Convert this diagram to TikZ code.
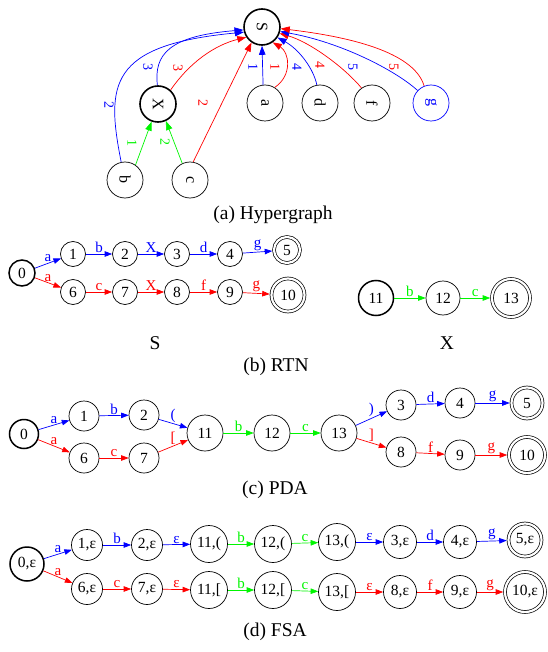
\documentclass[tikz,border=0pt]{standalone}
\usepackage{fontspec}
\usepackage{graphicx}
\setmainfont{Liberation Serif}
\usetikzlibrary{arrows.meta}
\definecolor{eblue}{RGB}{0,0,255}
\definecolor{ered}{RGB}{255,0,0}
\definecolor{egreen}{RGB}{0,245,0}
\begin{document}
\begin{tikzpicture}[x=1pt,y=-1pt,
  st/.style={circle,draw,line width=0.7pt,inner sep=0pt,minimum size=#1,font=\fontsize{15.5}{15.5}\selectfont},
  st/.default=30pt,
  stb/.style={st=#1,line width=1.5pt},
  stb/.default=30pt,
  acc/.style={st=#1,double,double distance=2.2pt,line width=0.7pt,outer sep=1.8pt},
  acc/.default=30pt,
  hn/.style={circle,draw,line width=0.7pt,inner sep=0pt,minimum size=36pt,font=\fontsize{16}{16}\selectfont},
  hnb/.style={hn,line width=1.6pt},
  hl/.style={font=\fontsize{14}{14}\selectfont,rotate=-90,inner sep=0pt},
  el/.style={font=\fontsize{15}{15}\selectfont,inner sep=1pt},
  ar/.style={line width=0.7pt,-{Triangle[length=7.5pt,width=5.5pt]}},
  har/.style={line width=0.7pt,-{Triangle[length=9pt,width=6.5pt]}},
  captxt/.style={font=\fontsize{19.5}{19.5}\selectfont},
]
\useasboundingbox (0,0) rectangle (547,652);

% ---------------- (a) Hypergraph ----------------
\node[hnb] (S) at (262,27) {\rotatebox{-90}{S}};
\node[hnb] (X) at (158,104) {\rotatebox{-90}{X}};
\node[hn] (b) at (125,180) {\rotatebox{-90}{b}};
\node[hn] (c) at (190,180) {\rotatebox{-90}{c}};
\node[hn] (a) at (265,103) {\rotatebox{-90}{a}};
\node[hn] (d) at (320,103) {\rotatebox{-90}{d}};
\node[hn] (f) at (372,103) {\rotatebox{-90}{f}};
\node[hn,draw=eblue,text=eblue] (g) at (431,103) {\rotatebox{-90}{g}};

\draw[har,eblue] (b.102) .. controls (106,85) and (108,45) .. (S.196);
\draw[har,eblue] (X.92) .. controls (154,55) and (168,36) .. (S.189);
\draw[har,ered] (X.48) .. controls (190,62) and (215,45) .. (S.213);
\draw[har,ered] (c.80) -- (S.236);
\draw[har,egreen] (b.55) -- (X.250);
\draw[har,egreen] (c.115) -- (X.295);
\draw[har,eblue] (a.96) -- (S.270);
\draw[har,ered] (a.58) .. controls (293,75) and (289,52) .. (S.305);
\draw[har,eblue] (d.100) .. controls (314,70) and (300,50) .. (S.326);
\draw[har,ered] (f.125) .. controls (345,68) and (310,42) .. (S.340);
\draw[har,eblue] (g.137) .. controls (395,70) and (340,42) .. (S.346);
\draw[har,ered] (g.112) .. controls (415,55) and (360,38) .. (S.355);

\node[hl,text=eblue] (lb2) at (109,105) {2};
\node[hl,text=egreen] (lb1) at (132,143) {1};
\node[hl,text=egreen] (lc2) at (165,142) {2};
\node[hl,text=eblue] (lx3b) at (148,67) {3};
\node[hl,text=ered] (lx3r) at (178,68) {3};
\node[hl,text=ered] (lc2r) at (203,103) {2};
\node[hl,text=eblue] (la1b) at (253,67) {1};
\node[hl,text=ered] (la1r) at (275,67) {1};
\node[hl,text=eblue] (ld4) at (297,67) {4};
\node[hl,text=ered] (lf4) at (320,65) {4};
\node[hl,text=eblue] (lg5b) at (353,67) {5};
\node[hl,text=ered] (lg5r) at (394,67) {5};

\node[captxt] (capa) at (273,215) {(a) Hypergraph};

% ---------------- (b) RTN ----------------
\node[stb=26pt] (r0) at (22,273) {0};
\node[st=25pt] (r1) at (73,254) {1};
\node[st=25pt] (r2) at (125,254) {2};
\node[st=25pt] (r3) at (177,254) {3};
\node[st=25pt] (r4) at (230,254) {4};
\node[acc=26pt] (r5) at (287,250) {5};
\node[st=25pt] (r6) at (73,292) {6};
\node[st=25pt] (r7) at (125,292) {7};
\node[st=25pt] (r8) at (177,292) {8};
\node[st=25pt] (r9) at (230,292) {9};
\node[acc=33pt] (r10) at (288,295) {10};

\draw[ar,eblue] (r0) -- node[el,above] {a} (r1);
\draw[ar,eblue] (r1) -- node[el,above] {b} (r2);
\draw[ar,eblue] (r2) -- node[el,above] {X} (r3);
\draw[ar,eblue] (r3) -- node[el,above] {d} (r4);
\draw[ar,eblue] (r4) -- node[el,above] {g} (r5);
\draw[ar,ered] (r0) -- node[el,above] {a} (r6);
\draw[ar,ered] (r6) -- node[el,above] {c} (r7);
\draw[ar,ered] (r7) -- node[el,above] {X} (r8);
\draw[ar,ered] (r8) -- node[el,above] {f} (r9);
\draw[ar,ered] (r9) -- node[el,above] {g} (r10);

\node[stb=35pt] (r11) at (376,298) {11};
\node[st=34pt] (r12) at (443,298) {12};
\node[acc=38pt] (r13) at (511,298) {13};
\draw[ar,egreen] (r11) -- node[el,above] {b} (r12);
\draw[ar,egreen] (r12) -- node[el,above] {c} (r13);

\node[captxt] (lS) at (155,343) {S};
\node[captxt] (lX) at (447,343) {X};
\node[captxt] (capb) at (276,367) {(b) RTN};

% ---------------- (c) PDA ----------------
\node[stb=29pt] (p0) at (24,434) {0};
\node[st=30pt] (p1) at (84,416) {1};
\node[st=30pt] (p2) at (144,415) {2};
\node[st=30pt] (p6) at (84,458) {6};
\node[st=30pt] (p7) at (144,458) {7};
\node[st=36pt] (p11) at (205,433) {11};
\node[st=36pt] (p12) at (272,433) {12};
\node[st=36pt] (p13) at (339,433) {13};
\node[st=30pt] (p3) at (401,405) {3};
\node[st=30pt] (p4) at (460,403) {4};
\node[acc=31pt] (p5) at (527,403) {5};
\node[st=30pt] (p8) at (401,452) {8};
\node[st=30pt] (p9) at (460,455) {9};
\node[acc=36pt] (p10) at (527,455) {10};

\draw[ar,eblue] (p0) -- node[el,above] {a} (p1);
\draw[ar,eblue] (p1) -- node[el,above] {b} (p2);
\draw[ar,eblue] (p2) -- node[el,above] {(} (p11);
\draw[ar,ered] (p0) -- node[el,above] {a} (p6);
\draw[ar,ered] (p6) -- node[el,above] {c} (p7);
\draw[ar,ered] (p7) -- node[el,above] {[} (p11);
\draw[ar,egreen] (p11) -- node[el,above] {b} (p12);
\draw[ar,egreen] (p12) -- node[el,above] {c} (p13);
\draw[ar,eblue] (p13) -- node[el,above] {)} (p3);
\draw[ar,eblue] (p3) -- node[el,above] {d} (p4);
\draw[ar,eblue] (p4) -- node[el,above] {g} (p5);
\draw[ar,ered] (p13) -- node[el,above] {]} (p8);
\draw[ar,ered] (p8) -- node[el,above] {f} (p9);
\draw[ar,ered] (p9) -- node[el,above] {g} (p10);

\node[captxt] (capc) at (275,490) {(c) PDA};

% ---------------- (d) FSA ----------------
\node[stb=34pt] (f0) at (27,564) {0,ε};
\node[st=31pt] (f1) at (87,545) {1,ε};
\node[st=31pt] (f2) at (147,545) {2,ε};
\node[st=37pt] (f11a) at (209,544) {11,(};
\node[st=37pt] (f12a) at (273,544) {12,(};
\node[st=37pt] (f13a) at (337,542) {13,(};
\node[st=33pt] (f3) at (400,542) {3,ε};
\node[st=33pt] (f4) at (460,542) {4,ε};
\node[acc=33pt] (f5) at (525,540) {5,ε};
\node[st=31pt] (f6) at (87,589) {6,ε};
\node[st=31pt] (f7) at (147,589) {7,ε};
\node[st=37pt] (f11b) at (209,590) {11,[};
\node[st=37pt] (f12b) at (273,590) {12,[};
\node[st=37pt] (f13b) at (337,592) {13,[};
\node[st=33pt] (f8) at (400,592) {8,ε};
\node[st=33pt] (f9) at (460,592) {9,ε};
\node[acc=40pt] (f10) at (525,592) {10,ε};

\draw[ar,eblue] (f0) -- node[el,above] {a} (f1);
\draw[ar,eblue] (f1) -- node[el,above] {b} (f2);
\draw[ar,eblue] (f2) -- node[el,above] {ε} (f11a);
\draw[ar,egreen] (f11a) -- node[el,above] {b} (f12a);
\draw[ar,egreen] (f12a) -- node[el,above] {c} (f13a);
\draw[ar,eblue] (f13a) -- node[el,above] {ε} (f3);
\draw[ar,eblue] (f3) -- node[el,above] {d} (f4);
\draw[ar,eblue] (f4) -- node[el,above] {g} (f5);
\draw[ar,ered] (f0) -- node[el,above] {a} (f6);
\draw[ar,ered] (f6) -- node[el,above] {c} (f7);
\draw[ar,ered] (f7) -- node[el,above] {ε} (f11b);
\draw[ar,egreen] (f11b) -- node[el,above] {b} (f12b);
\draw[ar,egreen] (f12b) -- node[el,above] {c} (f13b);
\draw[ar,ered] (f13b) -- node[el,above] {ε} (f8);
\draw[ar,ered] (f8) -- node[el,above] {f} (f9);
\draw[ar,ered] (f9) -- node[el,above] {g} (f10);

\node[captxt] (capd) at (275,632) {(d) FSA};
\end{tikzpicture}
\end{document}
